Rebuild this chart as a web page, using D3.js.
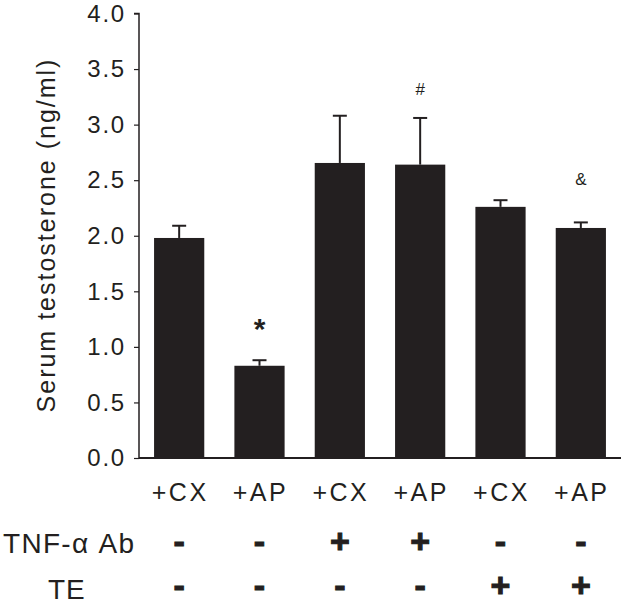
<!DOCTYPE html>
<html><head><meta charset="utf-8">
<script src="https://cdn.jsdelivr.net/npm/d3@7"></script>
<style>body{margin:0;background:#fff}svg{display:block}text{font-family:"Liberation Sans",Arial,sans-serif;fill:#231f20}</style>
</head><body>
<script>
const categories = ["+CX","+AP","+CX","+AP","+CX","+AP"];
const means = [1.98, 0.83, 2.655, 2.64, 2.26, 2.07];
const errors = [0.11, 0.05, 0.425, 0.42, 0.06, 0.05];
const marks = ["", "*", "", "#", "", "&"];
const tnfRow = ["-","-","+","+","-","-"];
const teRow = ["-","-","-","-","+","+"];
const yTicks = [0,0.5,1.0,1.5,2.0,2.5,3.0,3.5,4.0];

const W=625,H=606;
const svg=d3.select("body").append("svg").attr("width",W).attr("height",H);
const x=d3.scaleBand().domain(d3.range(categories.length)).range([139,621]).paddingInner(0.375).paddingOuter(0.1875);
const y=d3.scaleLinear().domain([0,4]).range([458,13.5]);
const col="#231f20";

// bars
svg.selectAll("rect.bar").data(means).join("rect").attr("class","bar")
  .attr("x",(d,i)=>x(i)).attr("width",x.bandwidth())
  .attr("y",d=>y(d)).attr("height",d=>y(0)-y(d)).attr("fill",col);
// error bars
const eb=svg.selectAll("g.eb").data(means).join("g").attr("class","eb");
eb.append("line").attr("x1",(d,i)=>x(i)+x.bandwidth()/2).attr("x2",(d,i)=>x(i)+x.bandwidth()/2)
  .attr("y1",d=>y(d)).attr("y2",(d,i)=>y(d+errors[i])).attr("stroke",col).attr("stroke-width",2);
eb.append("line").attr("x1",(d,i)=>x(i)+x.bandwidth()/2-7).attr("x2",(d,i)=>x(i)+x.bandwidth()/2+7)
  .attr("y1",(d,i)=>y(d+errors[i])).attr("y2",(d,i)=>y(d+errors[i])).attr("stroke",col).attr("stroke-width",2);

// axes
const yAxis=svg.append("g").attr("transform","translate(139,0)")
  .call(d3.axisLeft(y).tickValues(yTicks).tickFormat(d3.format(".1f")).tickSize(5).tickPadding(8));
yAxis.select(".domain").attr("stroke",col).attr("stroke-width",1.5).attr("d","M-5,13.5H0V458");
yAxis.selectAll(".tick line").attr("stroke",col).attr("stroke-width",1.2);
yAxis.selectAll(".tick text").attr("font-size",24).attr("letter-spacing",1.8).attr("fill",col)
  .attr("font-family","Liberation Sans, Arial, sans-serif");
svg.append("line").attr("x1",139).attr("x2",621).attr("y1",y(0)).attr("y2",y(0)).attr("stroke",col).attr("stroke-width",2);

// y label
svg.append("text").attr("transform","translate(55,235) rotate(-90)").attr("text-anchor","middle")
  .attr("font-size",25).attr("letter-spacing",2).text("Serum testosterone (ng/ml)");

// significance marks
svg.selectAll("text.mk").data(marks).join("text").attr("class","mk")
  .attr("x",(d,i)=>x(i)+x.bandwidth()/2).attr("text-anchor","middle")
  .attr("y",(d,i)=>y(means[i]+errors[i])-(d==="*"?21:d==="#"?23:37))
  .attr("font-size",d=>d==="*"?30:17).attr("font-weight",d=>d==="*"?"bold":"normal").text(d=>d);

// category labels
svg.selectAll("text.cat").data(categories).join("text").attr("class","cat")
  .attr("x",(d,i)=>x(i)+x.bandwidth()/2+1).attr("y",501).attr("text-anchor","middle")
  .attr("font-size",25).attr("letter-spacing",2.5).text(d=>d);

// rows
svg.append("text").attr("x",3).attr("y",553).attr("font-size",28).attr("letter-spacing",1.3).text("TNF-α Ab");
svg.append("text").attr("x",48).attr("y",599).attr("font-size",28).attr("letter-spacing",1).text("TE");
function row(data,yy){
  svg.selectAll(null).data(data).join("text")
    .attr("x",(d,i)=>x(i)+x.bandwidth()/2).attr("y",yy).attr("text-anchor","middle")
    .attr("font-size",34).attr("font-weight","bold")
    .attr("stroke",col).attr("stroke-width",1).text(d=>d);
}
row(tnfRow,553);
row(teRow,597);
</script>
</body></html>
